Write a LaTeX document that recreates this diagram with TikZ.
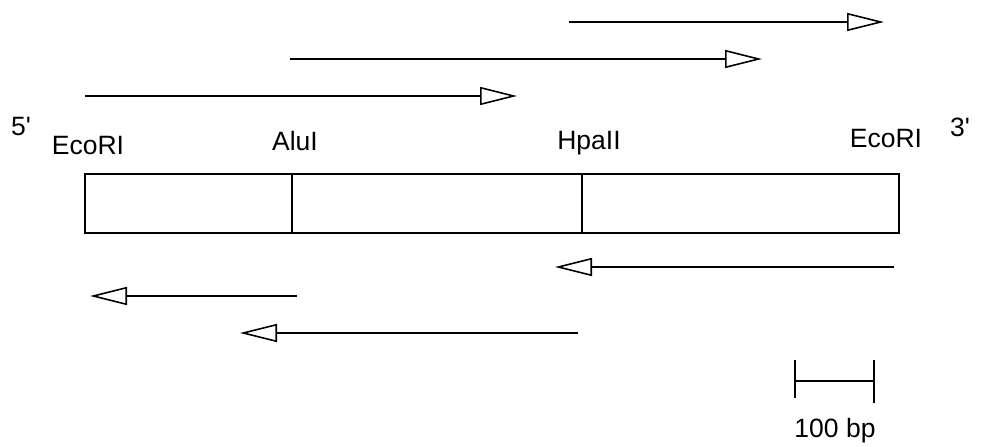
\documentclass[tikz,border=0pt]{standalone}
\usepackage{fontspec}
\setmainfont{Liberation Sans}
\usetikzlibrary{arrows.meta}
\begin{document}
\begin{tikzpicture}[x=1pt,y=-1pt,
  seq/.style={line width=2.2pt,-{Triangle[length=37pt,width=18pt,fill=white,line width=1.6pt]}},
  lbl/.style={anchor=base,inner sep=0pt,font=\fontsize{26.5}{30}\selectfont},
  frag/.style={draw,line width=2.2pt,minimum height=59pt,inner sep=0pt,anchor=north west}]
\useasboundingbox (0,0) rectangle (983,447);
% restriction fragments
\node[frag,minimum width=207pt] (f1) at (84,173) {};
\node[frag,minimum width=290pt] (f2) at (291,173) {};
\node[frag,minimum width=317pt] (f3) at (581,173) {};
% labels
\node[lbl] (p5) at (21,135) {5\textquotesingle};
\node[lbl] (p3) at (960,136) {3\textquotesingle};
\node[lbl] (e1) at (88,154) {EcoRI};
\node[lbl] (alu) at (295,150) {AluI};
\node[lbl] (hpa) at (589,149) {HpaII};
\node[lbl] (e2) at (886,147) {EcoRI};
% forward reads
\coordinate (a1s) at (569,22);  \coordinate (a1e) at (884,22);
\coordinate (a2s) at (290,59);  \coordinate (a2e) at (762,59);
\coordinate (a3s) at (85,96);   \coordinate (a3e) at (517,96);
\draw[seq] (a1s) -- (a1e);
\draw[seq] (a2s) -- (a2e);
\draw[seq] (a3s) -- (a3e);
% reverse reads
\coordinate (b1s) at (894,267); \coordinate (b1e) at (555,267);
\coordinate (b2s) at (297,296); \coordinate (b2e) at (90,296);
\coordinate (b3s) at (578,333); \coordinate (b3e) at (240,333);
\draw[seq] (b1s) -- (b1e);
\draw[seq] (b2s) -- (b2e);
\draw[seq] (b3s) -- (b3e);
% scale bar
\coordinate (sl) at (795,381); \coordinate (sr) at (874,381);
\draw[line width=2.2pt] (sl) -- (sr);
\draw[line width=2.2pt] (795,360) -- (795,398);
\draw[line width=2.2pt] (874,360) -- (874,403);
\node[lbl] (sb) at (835,437) {100 bp};
\end{tikzpicture}
\end{document}
